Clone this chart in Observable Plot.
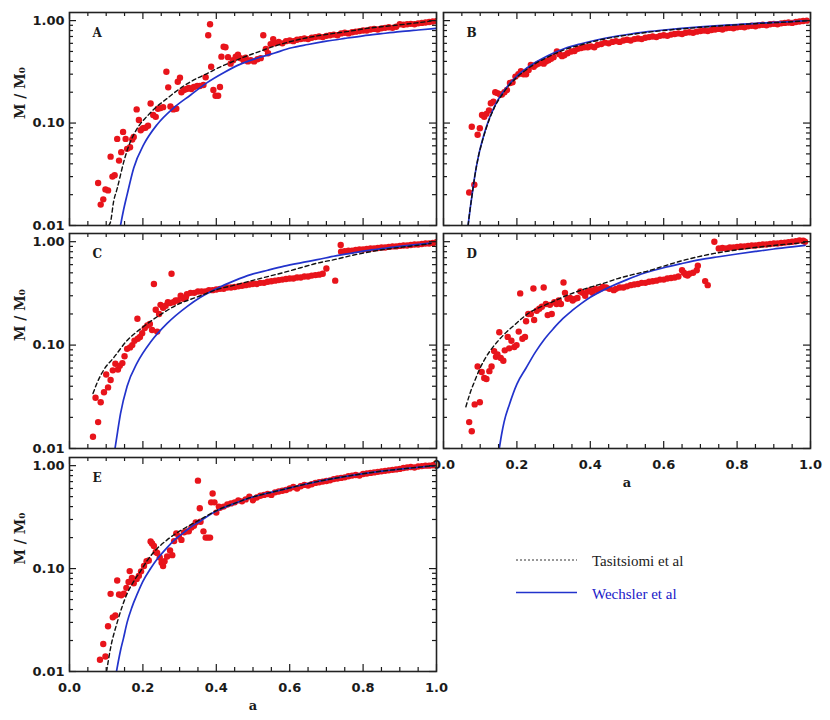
<!DOCTYPE html>
<html><head><meta charset="utf-8">
<script src="https://cdn.jsdelivr.net/npm/d3@7"></script>
<script src="https://cdn.jsdelivr.net/npm/@observablehq/plot@0.6"></script>
<style>
body{margin:0;background:#fff;}
#wrap{position:relative;width:830px;height:720px;overflow:hidden;background:#fff;}
#wrap svg{position:absolute;}
</style></head><body><div id="wrap"></div>
<script>
// ---------- data: [a, M/M0] ----------
const ptsA = [[0.078,0.026],[0.085,0.016],[0.092,0.018],[0.098,0.0225],[0.105,0.022],[0.112,0.047],[0.117,0.03],[0.123,0.031],[0.13,0.07],[0.135,0.043],[0.141,0.052],[0.146,0.082],[0.153,0.07],[0.157,0.056],[0.165,0.058],[0.171,0.069],[0.175,0.073],[0.183,0.136],[0.189,0.107],[0.194,0.085],[0.2,0.089],[0.207,0.09],[0.214,0.094],[0.221,0.155],[0.228,0.12],[0.235,0.115],[0.241,0.138],[0.248,0.14],[0.255,0.143],[0.264,0.317],[0.269,0.223],[0.275,0.145],[0.283,0.136],[0.291,0.138],[0.295,0.253],[0.301,0.277],[0.305,0.2],[0.312,0.21],[0.319,0.215],[0.325,0.22],[0.332,0.215],[0.339,0.225],[0.348,0.23],[0.355,0.23],[0.365,0.235],[0.371,0.28],[0.378,0.72],[0.383,0.92],[0.386,0.355],[0.392,0.21],[0.398,0.185],[0.405,0.185],[0.41,0.225],[0.414,0.445],[0.42,0.556],[0.425,0.55],[0.432,0.44],[0.439,0.38],[0.446,0.41],[0.453,0.445],[0.459,0.465],[0.466,0.43],[0.474,0.41],[0.48,0.435],[0.486,0.40],[0.494,0.41],[0.503,0.40],[0.512,0.42],[0.521,0.43],[0.528,0.72],[0.535,0.53],[0.541,0.48],[0.548,0.59],[0.555,0.66],
[0.56,0.60],[0.57,0.62],[0.58,0.60],[0.59,0.63],[0.60,0.64],[0.61,0.63],[0.62,0.65],[0.63,0.66],[0.64,0.67],[0.65,0.66],[0.66,0.68],[0.67,0.69],[0.68,0.70],[0.69,0.69],[0.70,0.71],[0.71,0.72],[0.72,0.73],[0.73,0.72],[0.74,0.75],[0.75,0.76],[0.76,0.75],[0.77,0.77],[0.78,0.78],[0.79,0.79],[0.80,0.80],[0.81,0.80],[0.82,0.82],[0.83,0.83],[0.84,0.82],[0.85,0.84],[0.86,0.85],[0.87,0.86],[0.88,0.85],[0.89,0.87],[0.90,0.92],[0.91,0.91],[0.92,0.92],[0.93,0.93],[0.94,0.92],[0.95,0.94],[0.96,0.95],[0.97,0.96],[0.98,0.97],[0.99,0.98],[1.0,0.99]];
const tasA = [[0.107,0.01],[0.112,0.0109],[0.12,0.017],[0.13,0.023],[0.148,0.042],[0.16,0.058],[0.175,0.077],[0.19,0.095],[0.212,0.117],[0.235,0.142],[0.257,0.164],[0.285,0.197],[0.311,0.23],[0.34,0.265],[0.375,0.304],[0.405,0.345],[0.439,0.39],[0.475,0.44],[0.511,0.49],[0.55,0.55],[0.584,0.60],[0.63,0.66],[0.675,0.71],[0.72,0.75],[0.765,0.79],[0.81,0.84],[0.855,0.875],[0.9,0.91],[0.945,0.95],[0.985,0.99]];
const wecA = [[0.139,0.01],[0.147,0.014],[0.157,0.02],[0.175,0.0365],[0.2025,0.0618],[0.239,0.097],[0.284,0.141],[0.33,0.188],[0.375,0.248],[0.42,0.31],[0.466,0.376],[0.511,0.43],[0.557,0.48],[0.602,0.54],[0.65,0.585],[0.7,0.63],[0.75,0.67],[0.8,0.71],[0.85,0.745],[0.9,0.78],[0.95,0.81],[1.0,0.84]];

const ptsB = [[0.07,0.021],[0.084,0.025],[0.077,0.092],[0.093,0.077],[0.099,0.089],[0.105,0.12],[0.111,0.115],[0.117,0.123],[0.124,0.133],[0.129,0.156],[0.136,0.162],[0.141,0.2],[0.147,0.196],[0.154,0.19],[0.159,0.19],[0.166,0.2],[0.173,0.21],[0.181,0.246],[0.188,0.25],[0.196,0.284],[0.204,0.30],[0.211,0.32],[0.218,0.30],[0.225,0.30],[0.232,0.33],[0.238,0.37],[0.246,0.355],[0.252,0.37],[0.258,0.38],[0.266,0.39],[0.273,0.38],[0.279,0.40],[0.286,0.41],[0.293,0.425],[0.30,0.44],[0.309,0.50],[0.316,0.47],[0.323,0.45],[0.329,0.46],[0.338,0.48],[0.348,0.50],[0.357,0.505],[0.366,0.53],[0.375,0.54],[0.384,0.55],[0.393,0.55],[0.402,0.56],[0.411,0.55],[0.42,0.58],
[0.43,0.59],[0.44,0.61],[0.45,0.60],[0.46,0.62],[0.47,0.63],[0.48,0.62],[0.49,0.64],[0.50,0.65],[0.51,0.64],[0.52,0.66],[0.53,0.67],[0.54,0.66],[0.55,0.68],[0.56,0.69],[0.57,0.70],[0.58,0.69],[0.59,0.71],[0.60,0.72],[0.61,0.71],[0.62,0.73],[0.63,0.74],[0.64,0.75],[0.65,0.74],[0.66,0.76],[0.67,0.77],[0.68,0.76],[0.69,0.78],[0.70,0.79],[0.71,0.80],[0.72,0.79],[0.73,0.81],[0.74,0.82],[0.75,0.83],[0.76,0.82],[0.77,0.84],[0.78,0.85],[0.79,0.84],[0.80,0.86],[0.81,0.87],[0.82,0.86],[0.83,0.88],[0.84,0.89],[0.85,0.88],[0.86,0.90],[0.87,0.91],[0.88,0.90],[0.89,0.92],[0.90,0.93],[0.91,0.92],[0.92,0.94],[0.93,0.95],[0.94,0.96],[0.95,0.95],[0.96,0.97],[0.97,0.98],[0.98,0.99],[0.99,1.0]];
const tasB = [[0.067,0.01],[0.072,0.014],[0.078,0.02],[0.085,0.03],[0.095,0.047],[0.105,0.065],[0.116,0.088],[0.138,0.14],[0.16,0.19],[0.175,0.225],[0.2,0.28],[0.22,0.32],[0.25,0.38],[0.284,0.44],[0.33,0.52],[0.375,0.58],[0.42,0.64],[0.466,0.69],[0.51,0.73],[0.557,0.77],[0.6,0.80],[0.648,0.83],[0.7,0.86],[0.739,0.88],[0.8,0.91],[0.83,0.925],[0.9,0.955],[0.95,0.975],[0.99,1.0]];
const wecB = [[0.067,0.01],[0.072,0.014],[0.078,0.02],[0.085,0.03],[0.095,0.047],[0.105,0.066],[0.116,0.09],[0.138,0.143],[0.16,0.195],[0.175,0.23],[0.2,0.288],[0.22,0.33],[0.25,0.39],[0.284,0.455],[0.33,0.535],[0.375,0.595],[0.42,0.65],[0.466,0.70],[0.51,0.74],[0.557,0.78],[0.6,0.81],[0.648,0.84],[0.7,0.87],[0.739,0.89],[0.8,0.915],[0.83,0.93],[0.9,0.96],[0.95,0.98],[0.99,1.0]];

const ptsC = [[0.064,0.013],[0.071,0.031],[0.078,0.018],[0.085,0.028],[0.094,0.035],[0.10,0.052],[0.105,0.039],[0.112,0.046],[0.118,0.057],[0.125,0.066],[0.132,0.058],[0.137,0.063],[0.144,0.067],[0.15,0.078],[0.157,0.092],[0.165,0.095],[0.171,0.10],[0.177,0.11],[0.185,0.18],[0.186,0.115],[0.192,0.12],[0.198,0.13],[0.205,0.146],[0.212,0.155],[0.219,0.16],[0.225,0.14],[0.23,0.39],[0.235,0.22],[0.239,0.135],[0.244,0.20],[0.248,0.245],[0.255,0.23],[0.262,0.24],[0.268,0.26],[0.274,0.255],[0.278,0.49],[0.283,0.26],[0.289,0.27],[0.295,0.27],[0.303,0.30],[0.31,0.28],[0.317,0.29],
[0.32,0.31],[0.33,0.32],[0.34,0.32],[0.35,0.33],[0.36,0.33],[0.37,0.33],[0.38,0.34],[0.39,0.34],[0.40,0.345],[0.41,0.35],[0.42,0.35],[0.43,0.36],[0.44,0.36],[0.45,0.365],[0.46,0.37],[0.47,0.375],[0.48,0.38],[0.49,0.385],[0.50,0.39],[0.51,0.39],[0.52,0.40],[0.53,0.40],[0.54,0.41],[0.55,0.415],[0.56,0.42],[0.57,0.425],[0.58,0.43],[0.59,0.435],[0.60,0.44],[0.61,0.44],[0.62,0.45],[0.63,0.45],[0.64,0.46],[0.65,0.46],[0.66,0.47],[0.67,0.475],[0.68,0.48],[0.69,0.49],[0.70,0.55],[0.724,0.42],[0.739,0.93],
[0.74,0.80],[0.75,0.81],[0.76,0.82],[0.77,0.82],[0.78,0.83],[0.79,0.84],[0.80,0.84],[0.81,0.85],[0.82,0.86],[0.83,0.86],[0.84,0.87],[0.85,0.88],[0.86,0.88],[0.87,0.89],[0.88,0.90],[0.89,0.90],[0.90,0.91],[0.91,0.92],[0.92,0.92],[0.93,0.93],[0.94,0.94],[0.95,0.94],[0.96,0.95],[0.97,0.96],[0.98,0.96],[0.99,0.97],[1.0,0.99]];
const tasC = [[0.064,0.034],[0.075,0.043],[0.094,0.058],[0.121,0.076],[0.157,0.111],[0.194,0.144],[0.239,0.188],[0.294,0.246],[0.357,0.30],[0.403,0.346],[0.45,0.38],[0.494,0.418],[0.54,0.46],[0.585,0.505],[0.63,0.56],[0.675,0.62],[0.721,0.67],[0.765,0.73],[0.812,0.79],[0.855,0.84],[0.9,0.88],[0.945,0.92],[0.985,0.96]];
const wecC = [[0.124,0.01],[0.131,0.0145],[0.139,0.0217],[0.157,0.04],[0.185,0.068],[0.221,0.107],[0.266,0.162],[0.321,0.237],[0.357,0.29],[0.403,0.355],[0.45,0.42],[0.494,0.48],[0.54,0.53],[0.585,0.58],[0.63,0.625],[0.675,0.67],[0.725,0.73],[0.77,0.775],[0.81,0.82],[0.855,0.86],[0.9,0.90],[0.945,0.935],[0.985,0.97]];

const ptsD = [[0.07,0.018],[0.077,0.0147],[0.085,0.0267],[0.093,0.062],[0.099,0.028],[0.104,0.055],[0.111,0.048],[0.117,0.047],[0.125,0.056],[0.131,0.062],[0.138,0.0875],[0.143,0.077],[0.147,0.081],[0.152,0.133],[0.156,0.075],[0.163,0.0705],[0.167,0.089],[0.175,0.12],[0.179,0.093],[0.185,0.11],[0.193,0.096],[0.199,0.10],[0.205,0.135],[0.209,0.316],[0.215,0.115],[0.222,0.12],[0.225,0.17],[0.231,0.20],[0.238,0.20],[0.245,0.353],[0.247,0.175],[0.254,0.215],[0.261,0.225],[0.268,0.235],[0.273,0.36],[0.279,0.25],[0.284,0.195],[0.29,0.245],[0.295,0.20],[0.302,0.26],[0.308,0.25],[0.314,0.27],[0.32,0.25],[0.327,0.403],[0.331,0.32],[0.338,0.28],[0.345,0.285],[0.352,0.27],[0.358,0.28],[0.365,0.285],[0.373,0.33],[0.379,0.32],[0.386,0.30],[0.393,0.33],[0.40,0.34],[0.406,0.32],[0.414,0.35],[0.42,0.34],[0.427,0.35],[0.434,0.365],[0.443,0.36],[0.452,0.35],[0.464,0.34],
[0.47,0.35],[0.48,0.36],[0.49,0.36],[0.50,0.37],[0.51,0.38],[0.52,0.385],[0.53,0.39],[0.54,0.40],[0.55,0.40],[0.56,0.41],[0.57,0.415],[0.58,0.42],[0.59,0.43],[0.60,0.43],[0.61,0.44],[0.62,0.445],[0.63,0.45],[0.64,0.46],[0.65,0.53],[0.655,0.50],[0.66,0.48],[0.665,0.47],[0.67,0.49],[0.68,0.50],[0.69,0.53],[0.693,0.585],[0.713,0.416],[0.72,0.38],[0.738,1.0],
[0.75,0.86],[0.76,0.87],[0.77,0.86],[0.78,0.88],[0.79,0.88],[0.80,0.89],[0.81,0.90],[0.82,0.90],[0.83,0.91],[0.84,0.92],[0.85,0.92],[0.86,0.93],[0.87,0.94],[0.88,0.94],[0.89,0.95],[0.90,0.96],[0.91,0.96],[0.92,0.97],[0.93,0.98],[0.94,0.99],[0.95,1.0],[0.96,1.01],[0.97,1.03],[0.98,1.02],[0.985,1.0]];
const tasD = [[0.061,0.0253],[0.072,0.034],[0.084,0.044],[0.097,0.057],[0.111,0.0716],[0.128,0.089],[0.147,0.108],[0.17,0.132],[0.193,0.156],[0.215,0.183],[0.238,0.21],[0.26,0.23],[0.284,0.25],[0.31,0.275],[0.329,0.295],[0.365,0.33],[0.402,0.365],[0.44,0.40],[0.475,0.44],[0.515,0.48],[0.556,0.52],[0.6,0.58],[0.647,0.65],[0.69,0.71],[0.738,0.77],[0.785,0.82],[0.829,0.86],[0.875,0.90],[0.92,0.935],[0.955,0.96],[0.984,0.98]];
const wecD = [[0.152,0.01],[0.158,0.0135],[0.165,0.018],[0.18,0.027],[0.2,0.042],[0.225,0.06],[0.25,0.085],[0.275,0.114],[0.3,0.145],[0.325,0.18],[0.35,0.215],[0.375,0.252],[0.4,0.29],[0.45,0.36],[0.5,0.43],[0.55,0.50],[0.6,0.56],[0.65,0.615],[0.7,0.67],[0.75,0.715],[0.8,0.76],[0.85,0.805],[0.9,0.85],[0.95,0.89],[0.985,0.92]];

const ptsE = [[0.083,0.013],[0.092,0.0185],[0.098,0.014],[0.105,0.0275],[0.112,0.0568],[0.118,0.0336],[0.125,0.035],[0.13,0.0767],[0.135,0.056],[0.141,0.055],[0.148,0.057],[0.155,0.065],[0.161,0.074],[0.164,0.0945],[0.17,0.081],[0.175,0.072],[0.183,0.079],[0.189,0.085],[0.195,0.094],[0.203,0.106],[0.21,0.118],[0.216,0.12],[0.221,0.183],[0.225,0.175],[0.23,0.166],[0.235,0.145],[0.239,0.142],[0.246,0.128],[0.251,0.114],[0.255,0.106],[0.259,0.118],[0.266,0.131],[0.274,0.15],[0.28,0.135],[0.285,0.185],[0.291,0.22],[0.298,0.205],[0.305,0.19],[0.312,0.225],[0.319,0.23],[0.325,0.23],[0.332,0.25],[0.339,0.26],[0.344,0.28],[0.35,0.715],[0.355,0.386],[0.357,0.285],[0.365,0.23],[0.371,0.20],[0.377,0.20],[0.383,0.20],[0.386,0.44],[0.39,0.537],[0.395,0.44],[0.40,0.35],[0.407,0.40],
[0.41,0.39],[0.42,0.40],[0.43,0.42],[0.44,0.43],[0.45,0.44],[0.46,0.46],[0.47,0.45],[0.48,0.47],[0.49,0.50],[0.50,0.46],[0.51,0.49],[0.52,0.51],[0.53,0.52],[0.54,0.53],[0.55,0.52],[0.56,0.55],[0.57,0.56],[0.58,0.57],[0.59,0.58],[0.60,0.60],[0.61,0.62],[0.62,0.60],[0.63,0.63],[0.64,0.65],[0.65,0.64],[0.66,0.66],[0.67,0.68],[0.68,0.69],[0.69,0.70],[0.70,0.71],[0.71,0.72],[0.72,0.74],[0.73,0.75],[0.74,0.76],[0.75,0.77],[0.76,0.79],[0.77,0.80],[0.78,0.81],[0.79,0.80],[0.80,0.83],[0.81,0.84],[0.82,0.85],[0.83,0.86],[0.84,0.87],[0.85,0.88],[0.86,0.89],[0.87,0.90],[0.88,0.91],[0.89,0.92],[0.90,0.93],[0.91,0.95],[0.92,0.96],[0.93,0.97],[0.94,0.96],[0.95,0.98],[0.96,0.99],[0.97,1.0],[0.98,1.0],[0.99,1.01]];
const tasE = [[0.101,0.01],[0.112,0.017],[0.13,0.03],[0.157,0.057],[0.175,0.075],[0.194,0.095],[0.212,0.12],[0.23,0.145],[0.266,0.19],[0.312,0.245],[0.357,0.30],[0.403,0.37],[0.45,0.43],[0.494,0.49],[0.54,0.54],[0.585,0.59],[0.63,0.645],[0.675,0.70],[0.72,0.75],[0.766,0.80],[0.81,0.845],[0.857,0.89],[0.9,0.925],[0.95,0.965],[0.994,1.0]];
const wecE = [[0.128,0.01],[0.133,0.0125],[0.139,0.016],[0.147,0.021],[0.157,0.03],[0.17,0.042],[0.185,0.057],[0.2,0.075],[0.221,0.10],[0.24,0.125],[0.266,0.16],[0.29,0.195],[0.312,0.225],[0.335,0.26],[0.357,0.29],[0.38,0.33],[0.403,0.367],[0.45,0.43],[0.494,0.49],[0.54,0.54],[0.585,0.59],[0.63,0.645],[0.675,0.70],[0.72,0.75],[0.766,0.80],[0.81,0.845],[0.857,0.89],[0.9,0.925],[0.95,0.965],[0.994,1.0]];

// ---------- ticks ----------
const X_MAJOR = [0, 0.2, 0.4, 0.6, 0.8, 1.0];
const X_MINOR = [0.05,0.1,0.15,0.25,0.3,0.35,0.45,0.5,0.55,0.65,0.7,0.75,0.85,0.9,0.95];
const Y_MAJOR = [0.01, 0.1, 1];
const Y_MINOR = [0.02,0.03,0.04,0.05,0.06,0.07,0.08,0.09,0.2,0.3,0.4,0.5,0.6,0.7,0.8,0.9];

// ---------- legend ----------
const LEGEND_LABELS = ["Tasitsiomi et al", "Wechsler et al"];

const RED = "#e8141b", BLUE = "#2233cc", INK = "#1a1a1a";
const wrap = document.getElementById("wrap");

function panel(p) {
  const W = 367, H = p.h;
  const ml = p.yAxis ? 69 : 16, mr = 16, mt = 4, mb = p.xAxis ? 44 : 4;
  const fx = d => d[0], fy = d => d[1];
  const tk = {stroke: INK, strokeWidth: 1.2};
  const marks = [
    Plot.dot(p.pts, {x: fx, y: fy, r: 3.2, fill: RED, clip: true}),
    Plot.line(p.wec, {x: fx, y: fy, stroke: BLUE, strokeWidth: 1.7, curve: "monotone-x", clip: true}),
    Plot.line(p.tas, {x: fx, y: fy, stroke: "#111", strokeWidth: 1.4, strokeDasharray: "4,3", curve: "monotone-x", clip: true}),
    Plot.tickX(X_MAJOR, {x: d => d, insetTop: H - 7, ...tk}),
    Plot.tickX(X_MAJOR, {x: d => d, insetBottom: H - 7, ...tk}),
    Plot.tickX(X_MINOR, {x: d => d, insetTop: H - 4, ...tk}),
    Plot.tickX(X_MINOR, {x: d => d, insetBottom: H - 4, ...tk}),
    Plot.tickY(Y_MAJOR, {y: d => d, insetRight: W - 7, ...tk}),
    Plot.tickY(Y_MAJOR, {y: d => d, insetLeft: W - 7, ...tk}),
    Plot.tickY(Y_MINOR, {y: d => d, insetRight: W - 4, ...tk}),
    Plot.tickY(Y_MINOR, {y: d => d, insetLeft: W - 4, ...tk}),
    Plot.frame({stroke: "#222", strokeWidth: 1.6}),
    Plot.text([p.letter], {frameAnchor: "top-left", dx: 23, dy: 21, text: d => d, lineAnchor: "middle",
      fontFamily: "DejaVu Serif", fontSize: 12, fontWeight: "bold", fill: INK})
  ];
  if (p.yAxis) {
    marks.push(
      Plot.axisY({ticks: Y_MAJOR, tickFormat: d3.format(".2f"), tickSize: 0, tickPadding: 5, label: null, fill: INK}),
      Plot.text(["M / M₀"], {frameAnchor: "left", dx: -49, rotate: -90, text: d => d,
        fontFamily: "DejaVu Serif", fontSize: 14, fontWeight: "bold", fill: INK})
    );
  }
  if (p.xAxis) {
    marks.push(
      Plot.axisX({ticks: X_MAJOR, tickFormat: d3.format(".1f"), tickSize: 0, tickPadding: 11, label: null, fill: INK}),
      Plot.text(["a"], {frameAnchor: "bottom", dy: 34, lineAnchor: "middle", text: d => d,
        fontFamily: "DejaVu Serif", fontSize: 13, fontWeight: "bold", fill: INK})
    );
  }
  const svg = Plot.plot({
    width: W + ml + mr, height: H + mt + mb,
    marginLeft: ml, marginRight: mr, marginTop: mt, marginBottom: mb,
    x: {domain: [0, 1], ...(p.xAxis ? {} : {axis: null})},
    y: {type: "log", domain: [0.01, 1.2], ...(p.yAxis ? {} : {axis: null})},
    style: {fontFamily: "DejaVu Sans", fontSize: "13px", fontWeight: "bold", background: "transparent", overflow: "visible"},
    marks
  });
  svg.style.left = (p.left - ml) + "px";
  svg.style.top = (p.top - mt) + "px";
  wrap.appendChild(svg);
}

panel({pts: ptsA, tas: tasA, wec: wecA, letter: "A", left: 69, top: 12, h: 213, yAxis: true, xAxis: false});
panel({pts: ptsB, tas: tasB, wec: wecB, letter: "B", left: 443, top: 12, h: 213, yAxis: false, xAxis: false});
panel({pts: ptsC, tas: tasC, wec: wecC, letter: "C", left: 69, top: 233, h: 215, yAxis: true, xAxis: false});
panel({pts: ptsD, tas: tasD, wec: wecD, letter: "D", left: 443, top: 233, h: 215, yAxis: false, xAxis: true});
panel({pts: ptsE, tas: tasE, wec: wecE, letter: "E", left: 69, top: 457, h: 214, yAxis: true, xAxis: true});

// legend drawn as its own small SVG
const NS = "http://www.w3.org/2000/svg";
const lg = document.createElementNS(NS, "svg");
lg.setAttribute("width", 240); lg.setAttribute("height", 80);
lg.style.left = "500px"; lg.style.top = "540px";
const legendStyle = [
  {stroke: "#333", dash: "2,2", text: "#222", width: 1},
  {stroke: BLUE, dash: null, text: "#2020c8", width: 1.4}
];
LEGEND_LABELS.forEach((label, i) => {
  const it = legendStyle[i];
  const y = 20 + i * 32.5;
  const ln = document.createElementNS(NS, "line");
  ln.setAttribute("x1", 16); ln.setAttribute("x2", 77); ln.setAttribute("y1", y); ln.setAttribute("y2", y);
  ln.setAttribute("stroke", it.stroke); ln.setAttribute("stroke-width", it.width);
  if (it.dash) ln.setAttribute("stroke-dasharray", it.dash);
  lg.appendChild(ln);
  const tx = document.createElementNS(NS, "text");
  tx.setAttribute("x", 92); tx.setAttribute("y", y + 1);
  tx.setAttribute("dominant-baseline", "central");
  tx.setAttribute("fill", it.text);
  tx.setAttribute("style", "font-family:'Liberation Serif','Tinos','DejaVu Serif',serif;font-size:15px;font-weight:normal");
  tx.textContent = label;
  lg.appendChild(tx);
});
wrap.appendChild(lg);
</script></body></html>
